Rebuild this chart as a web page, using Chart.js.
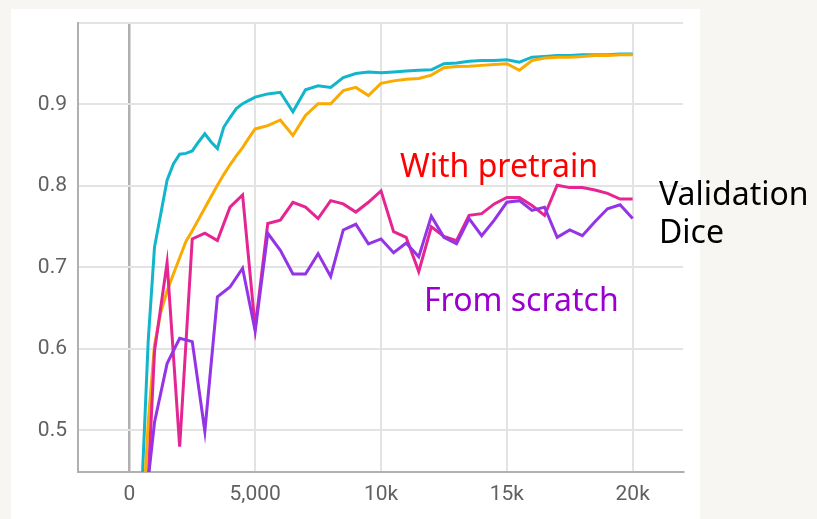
<!DOCTYPE html>
<html>
<head>
<meta charset="utf-8">
<script src="https://cdn.jsdelivr.net/npm/chart.js@4"></script>
<style>
    html, body { margin: 0; padding: 0; }
    body {
        width: 817px;
        height: 519px;
        background: #f7f6f2;
        position: relative;
        overflow: hidden;
        font-family: "Noto Sans", sans-serif;
    }
    #painel {
        position: absolute;
        left: 11px;
        top: 9px;
        width: 689px;
        height: 510px;
        background: #fff;
    }
    .nota {
        position: absolute;
        font-size: 32px;
        line-height: 38px;
        white-space: nowrap;
    }
</style>
</head>
<body>
<div id="painel"><canvas id="chart-dice"></canvas></div>
<div class="nota" style="left:400px; top:146px; color:#ff0000;">With pretrain</div>
<div class="nota" style="left:424px; top:280px; color:#9c00cf;">From scratch</div>
<div class="nota" style="left:659px; top:174px; color:#000;">Validation<br>Dice</div>

<script>
// eixos
const X_TICKS = [0, 5000, 10000, 15000, 20000];
const X_TICK_LABELS = ['0', '5,000', '10k', '15k', '20k'];
const Y_TICKS = [0.5, 0.6, 0.7, 0.8, 0.9, 1.0];
const Y_TICK_LABELS = ['0.5', '0.6', '0.7', '0.8', '0.9', ''];

// treino: a cada 250 passos até 5k, depois a cada 500
const TRAIN_STEPS = [
    500, 750, 1000, 1250, 1500, 1750, 2000, 2250, 2500, 2750,
    3000, 3250, 3500, 3750, 4000, 4250, 4500, 4750, 5000,
    5500, 6000, 6500, 7000, 7500, 8000, 8500, 9000, 9500, 10000,
    10500, 11000, 11500, 12000, 12500, 13000, 13500, 14000, 14500, 15000,
    15500, 16000, 16500, 17000, 17500, 18000, 18500, 19000, 19500, 20000
];
const TRAIN_PRETRAIN = [
    0.43, 0.61, 0.725, 0.766, 0.807, 0.827, 0.839, 0.840, 0.843, 0.854,
    0.864, 0.854, 0.846, 0.872, 0.884, 0.895, 0.901, 0.905, 0.909,
    0.913, 0.915, 0.891, 0.918, 0.923, 0.921, 0.933, 0.938, 0.940, 0.939,
    0.940, 0.941, 0.942, 0.9425, 0.950, 0.951, 0.953, 0.954, 0.954, 0.955,
    0.952, 0.958, 0.959, 0.960, 0.960, 0.961, 0.961, 0.961, 0.962, 0.962
];
const TRAIN_SCRATCH = [
    0.37, 0.51, 0.605, 0.645, 0.671, 0.692, 0.712, 0.732, 0.745, 0.759,
    0.773, 0.787, 0.801, 0.814, 0.826, 0.837, 0.847, 0.859, 0.870,
    0.874, 0.881, 0.862, 0.8865, 0.901, 0.901, 0.917, 0.921, 0.911, 0.926,
    0.929, 0.931, 0.932, 0.936, 0.945, 0.9465, 0.947, 0.948, 0.949, 0.950,
    0.942, 0.954, 0.957, 0.958, 0.958, 0.959, 0.960, 0.960, 0.961, 0.961
];

// validação: a cada 500 passos
const VAL_STEPS = [
    500, 1000, 1500, 2000, 2500, 3000, 3500, 4000, 4500, 5000,
    5500, 6000, 6500, 7000, 7500, 8000, 8500, 9000, 9500, 10000,
    10500, 11000, 11500, 12000, 12500, 13000, 13500, 14000, 14500, 15000,
    15500, 16000, 16500, 17000, 17500, 18000, 18500, 19000, 19500, 20000
];
const VAL_PRETRAIN = [
    0.28, 0.597, 0.706, 0.48, 0.735, 0.742, 0.733, 0.774, 0.789, 0.626,
    0.754, 0.758, 0.780, 0.774, 0.760, 0.782, 0.778, 0.768, 0.780, 0.794,
    0.744, 0.737, 0.695, 0.750, 0.738, 0.733, 0.764, 0.766, 0.778, 0.786,
    0.786, 0.776, 0.764, 0.801, 0.798, 0.798, 0.795, 0.791, 0.784, 0.784
];
const VAL_SCRATCH = [
    0.37, 0.51, 0.582, 0.613, 0.609, 0.499, 0.664, 0.676, 0.699, 0.622,
    0.742, 0.721, 0.692, 0.692, 0.717, 0.689, 0.746, 0.753, 0.729, 0.735,
    0.718, 0.730, 0.713, 0.763, 0.737, 0.729, 0.760, 0.739, 0.758, 0.780,
    0.782, 0.770, 0.774, 0.737, 0.746, 0.739, 0.756, 0.772, 0.777, 0.760
];

const COR_GRADE = '#e3e3e3';
const COR_EIXO = '#b0b0b0';
const FONTE_TICKS = { family: 'Roboto', size: 21 };

function pontos(passos, valores) {
    return passos.map((x, i) => ({ x, y: valores[i] }));
}

function serie(label, passos, valores, cor) {
    return {
        label,
        data: pontos(passos, valores),
        borderColor: cor,
        backgroundColor: cor,
        borderWidth: 3,
        pointRadius: 0,
        tension: 0,
        fill: false
    };
}

// o primeiro dataset fica por cima
const datasets = [
    serie('Validation Dice (scratch)', VAL_STEPS, VAL_SCRATCH, '#9334e6'),
    serie('Validation Dice (pretrain)', VAL_STEPS, VAL_PRETRAIN, '#e52592'),
    serie('Train Dice (scratch)', TRAIN_STEPS, TRAIN_SCRATCH, '#f9ab00'),
    serie('Train Dice (pretrain)', TRAIN_STEPS, TRAIN_PRETRAIN, '#12b5cb')
];

new Chart(document.getElementById('chart-dice'), {
    type: 'line',
    data: { datasets },
    options: {
        responsive: true,
        maintainAspectRatio: false,
        animation: false,
        layout: { padding: { top: 14, right: 17, left: 0, bottom: 0 } },
        plugins: {
            legend: { display: false },
            tooltip: { enabled: false }
        },
        scales: {
            x: {
                type: 'linear',
                min: -2040,
                max: 22000,
                afterBuildTicks: (scale) => { scale.ticks = X_TICKS.map(v => ({ value: v })); },
                afterFit: (scale) => {
                    scale.height = 47;
                    scale.paddingLeft = 0;
                    scale.paddingRight = 0;
                },
                ticks: {
                    autoSkip: false,
                    maxRotation: 0,
                    padding: 10,
                    color: '#616161',
                    font: FONTE_TICKS,
                    callback: (v, i) => X_TICK_LABELS[i]
                },
                grid: {
                    drawTicks: false,
                    color: (ctx) => ctx.tick && ctx.tick.value === 0 ? COR_EIXO : COR_GRADE,
                    lineWidth: (ctx) => ctx.tick && ctx.tick.value === 0 ? 2.5 : 2
                },
                border: { color: COR_EIXO, width: 2 }
            },
            y: {
                min: 0.449,
                max: 1.0,
                afterBuildTicks: (scale) => { scale.ticks = Y_TICKS.map(v => ({ value: v })); },
                afterFit: (scale) => {
                    // área do gráfico fixa, sem folga extra para os rótulos
                    scale.width = 67;
                    scale.paddingTop = 0;
                    scale.paddingBottom = 0;
                },
                ticks: {
                    padding: 11,
                    color: '#616161',
                    font: FONTE_TICKS,
                    callback: (v, i) => Y_TICK_LABELS[i]
                },
                grid: {
                    drawTicks: false,
                    color: COR_GRADE,
                    lineWidth: 2
                },
                border: { color: COR_EIXO, width: 2 }
            }
        }
    }
});
</script>
</body>
</html>
